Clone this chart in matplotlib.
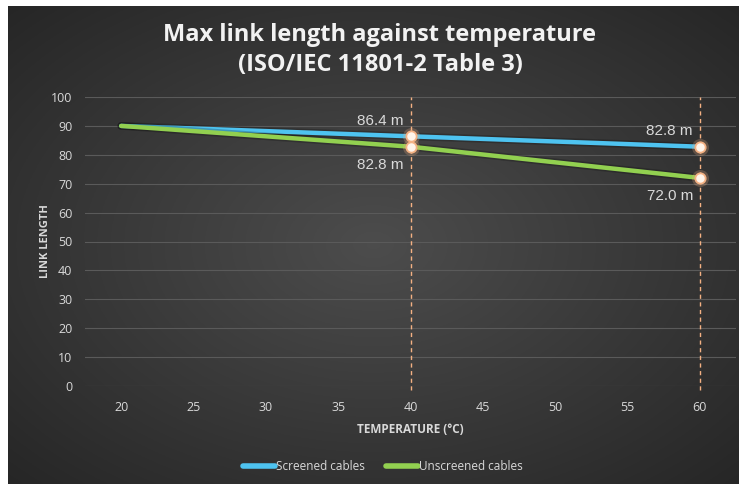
import numpy as np
import matplotlib.pyplot as plt
import matplotlib.patheffects as pe

# data
temps = [20, 40, 60]
screened = [90, 86.4, 82.8]
unscreened = [90, 82.8, 72.0]
marked_temps = [40, 60]
screened_marked = [86.4, 82.8]
unscreened_marked = [82.8, 72.0]
x_ticks = [20, 25, 30, 35, 40, 45, 50, 55, 60]
y_ticks = [0, 10, 20, 30, 40, 50, 60, 70, 80, 90, 100]

blue = '#4ec3f0'
green = '#92d050'
orange = '#f4b183'
txt = '#d9d9d9'

fig = plt.figure(figsize=(7.39, 4.84), dpi=100, facecolor='white')

# dark radial background
bg = fig.add_axes([8 / 739, 0, 731 / 739, 478 / 484], zorder=-2)
gx, gy = np.meshgrid(np.linspace(-1, 1, 400), np.linspace(-1, 1, 300))
r = np.sqrt(gx ** 2 + gy ** 2) / np.sqrt(2)
shade = 0.30 - 0.15 * r
bg.imshow(np.dstack([shade] * 3), aspect='auto', extent=[0, 1, 0, 1])
bg.axis('off')

ax = fig.add_axes([85 / 739, 98 / 484, 651 / 739, 289 / 484])
ax.set_facecolor('none')

glow = [pe.Stroke(linewidth=5.5, foreground='black', alpha=0.22), pe.Normal()]
ax.plot(temps, screened, color=blue, lw=3.2, label='Screened cables',
        path_effects=glow, solid_capstyle='round', zorder=3)
ax.plot(temps, unscreened, color=green, lw=3.2, label='Unscreened cables',
        path_effects=glow, solid_capstyle='round', zorder=3)

for t in marked_temps:
    ax.axvline(t, ymin=-0.015, ymax=1, color=orange, lw=1.0, ls=(0, (3, 2.5)),
               clip_on=False, zorder=2)

for vals in (screened_marked, unscreened_marked):
    ax.scatter(marked_temps, vals, s=150, color=orange, alpha=0.25, zorder=4, lw=0)
    ax.scatter(marked_temps, vals, s=55, facecolor='#fff4ea', edgecolor=orange,
               lw=1.3, zorder=5)

# value labels
for t, v in zip(marked_temps, screened_marked):
    ax.annotate(f'{v:.1f} m', (t, v), xytext=(-5, 6), textcoords='offset points',
                ha='right', va='bottom', color=txt, fontsize=11,
                family='Liberation Sans')
for t, v in zip(marked_temps, unscreened_marked):
    ax.annotate(f'{v:.1f} m', (t, v), xytext=(-5, -8), textcoords='offset points',
                ha='right', va='top', color=txt, fontsize=11,
                family='Liberation Sans')

ax.set_xlim(17.5, 62.5)
ax.set_ylim(0, 100)
ax.set_xticks(x_ticks)
ax.set_yticks(y_ticks)
ax.tick_params(length=0, colors=txt, labelsize=9)
ax.tick_params(axis='x', pad=11)
ax.tick_params(axis='y', pad=9)
for lab in ax.get_xticklabels() + ax.get_yticklabels():
    lab.set_family('Open Sans')
ax.grid(axis='y', color='#5a5a5a', lw=0.8)
ax.set_axisbelow(True)
for s in ax.spines.values():
    s.set_visible(False)

ax.set_xlabel('TEMPERATURE (°C)', color=txt, fontsize=8.5, fontweight='bold',
              family='Open Sans', labelpad=6)
ax.set_ylabel('LINK LENGTH', color=txt, fontsize=8, fontweight='bold',
              family='Open Sans', labelpad=0)

fig.text(380 / 739, 1 - 50 / 484, 'Max link length against temperature\n(ISO/IEC 11801-2 Table 3)',
         ha='center', va='center', color='#f2f2f2', fontsize=17, fontweight='bold',
         family='Open Sans', linespacing=1.3)

leg = fig.legend(loc='center', bbox_to_anchor=(383 / 739, 1 - 467 / 484), ncol=2,
                 frameon=False, handlelength=2.7, handletextpad=0.1,
                 columnspacing=1.8, prop={'family': 'Open Sans', 'size': 8.5})
for t in leg.get_texts():
    t.set_color(txt)
for h in leg.get_lines():
    h.set_linewidth(4)
    h.set_path_effects([])

fig.savefig('out.png', dpi=100, facecolor='white')
